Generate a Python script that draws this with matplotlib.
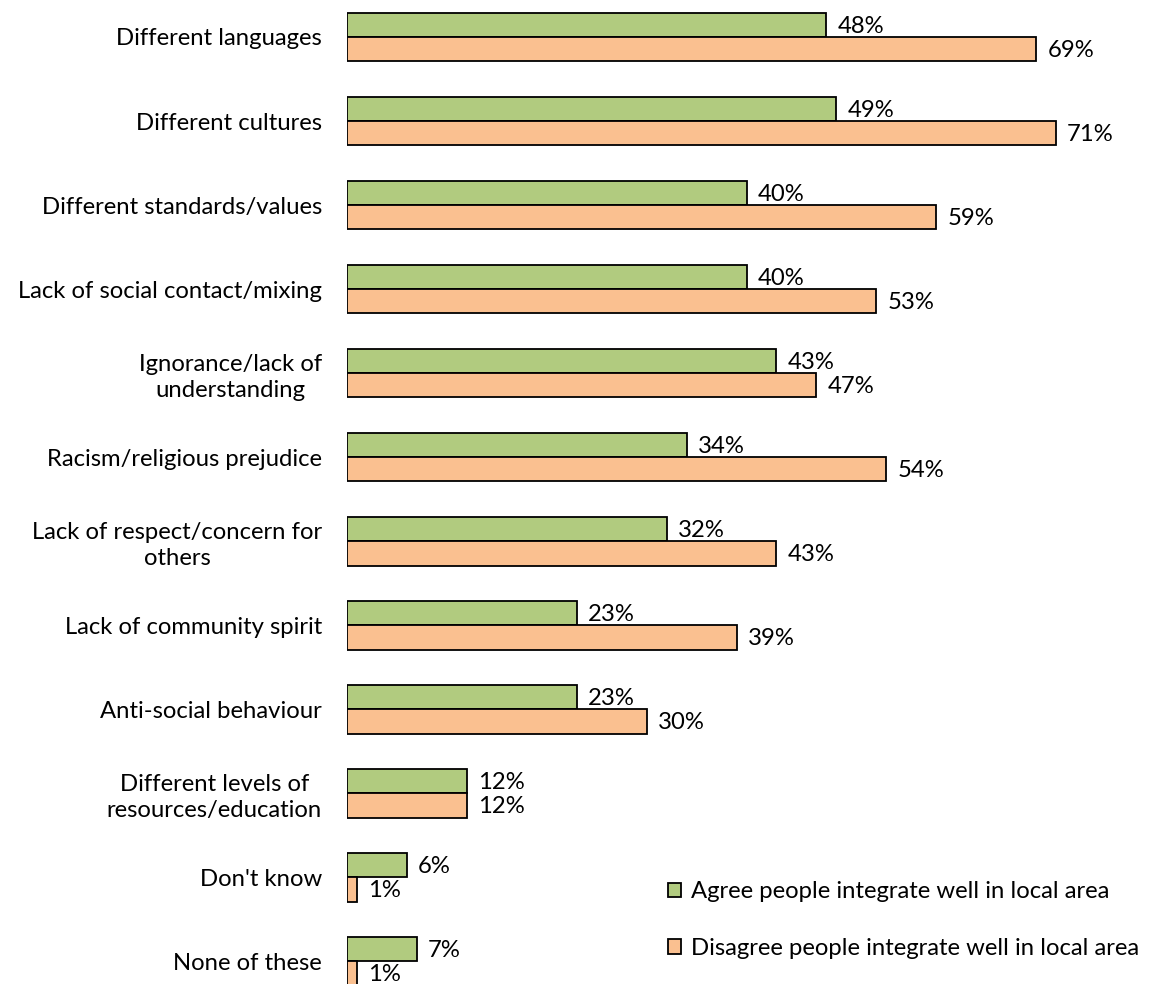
import matplotlib.pyplot as plt
import numpy as np

plt.rcParams['font.family'] = ['Lato', 'DejaVu Sans']

# Survey data
reasons = ['Different languages', 'Different cultures', 'Different standards/values',
           'Lack of social contact/mixing', 'Ignorance/lack of\nunderstanding',
           'Racism/religious prejudice', 'Lack of respect/concern for\nothers',
           'Lack of community spirit', 'Anti-social behaviour',
           'Different levels of\nresources/education', "Don't know", 'None of these']
agree = [48, 49, 40, 40, 43, 34, 32, 23, 23, 12, 6, 7]
disagree = [69, 71, 59, 53, 47, 54, 43, 39, 30, 12, 1, 1]
series_names = ['Agree people integrate well in local area',
                'Disagree people integrate well in local area']

green = '#B1CB7F'
orange = '#FAC090'
h = 0.29
fs = 17.2

fig = plt.figure(figsize=(11.62, 9.84), dpi=100)
ax = fig.add_axes([347 / 1162, 0, 1 - 347 / 1162, 1])

y = np.arange(len(reasons))
b1 = ax.barh(y - h / 2, agree, height=h, color=green, edgecolor='black', linewidth=1.3, label=series_names[0])
b2 = ax.barh(y + h / 2, disagree, height=h, color=orange, edgecolor='black', linewidth=1.3, label=series_names[1])

# value labels
for bars, vals in ((b1, agree), (b2, disagree)):
    for bar, v in zip(bars, vals):
        ax.annotate('%d%%' % v, (bar.get_width(), bar.get_y() + bar.get_height() / 2),
                    xytext=(8, -1), textcoords='offset points', va='center', ha='left', fontsize=fs)

ax.set_xlim(0, 81.6)
ax.set_ylim(11.27, -0.44)
ax.set_yticks(y)
ax.set_yticklabels(reasons, fontsize=fs, multialignment='center', linespacing=1.3)
ax.tick_params(axis='y', length=0, pad=18)
ax.set_xticks([])
for s in ax.spines.values():
    s.set_visible(False)

ax.legend(loc='upper left', bbox_to_anchor=(0.394, 0.1045), frameon=False, fontsize=fs,
          handlelength=0.55, handleheight=0.55, handletextpad=0.4, labelspacing=1.5,
          borderpad=0, borderaxespad=0)

fig.savefig('out.png', dpi=100)
